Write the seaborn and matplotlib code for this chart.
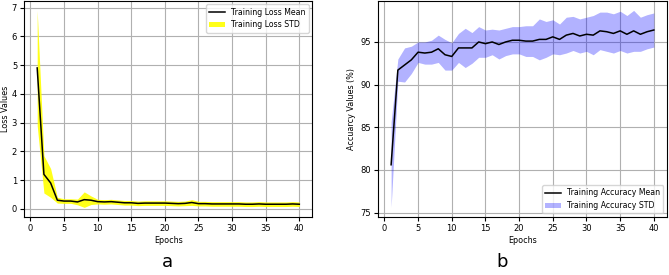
import numpy as np
import pandas as pd
import seaborn as sns
import matplotlib.pyplot as plt

epochs = list(range(1, 41))

loss_mean = [4.90, 1.20, 0.90, 0.30, 0.27, 0.27, 0.24, 0.32, 0.30, 0.25,
             0.24, 0.25, 0.23, 0.21, 0.21, 0.19, 0.20, 0.20, 0.20, 0.20,
             0.19, 0.18, 0.19, 0.22, 0.18, 0.18, 0.17, 0.17, 0.17, 0.17,
             0.17, 0.16, 0.16, 0.17, 0.16, 0.16, 0.16, 0.16, 0.17, 0.16]
loss_std = [2.00, 0.65, 0.50, 0.10, 0.08, 0.08, 0.10, 0.27, 0.15, 0.08,
            0.08, 0.08, 0.08, 0.08, 0.08, 0.08, 0.08, 0.08, 0.08, 0.08,
            0.08, 0.08, 0.08, 0.10, 0.08, 0.08, 0.08, 0.08, 0.08, 0.08,
            0.08, 0.08, 0.08, 0.08, 0.08, 0.08, 0.08, 0.08, 0.08, 0.08]

acc_mean = [80.6, 91.7, 92.3, 92.9, 93.8, 93.7, 93.8, 94.2, 93.5, 93.3,
            94.3, 94.3, 94.3, 95.0, 94.8, 95.0, 94.7, 95.0, 95.2, 95.2,
            95.1, 95.1, 95.3, 95.3, 95.6, 95.3, 95.8, 96.0, 95.7, 95.9,
            95.8, 96.3, 96.2, 96.0, 96.3, 95.9, 96.3, 95.9, 96.2, 96.4]
acc_std = [5.0, 1.3, 2.0, 1.6, 1.2, 1.3, 1.4, 1.6, 1.8, 1.6,
           1.7, 2.3, 1.8, 1.8, 1.6, 1.5, 1.7, 1.6, 1.6, 1.6,
           1.8, 1.8, 2.4, 2.1, 2.0, 1.8, 2.1, 2.0, 2.0, 2.0,
           2.3, 2.2, 2.3, 2.3, 2.3, 2.2, 2.4, 2.0, 2.0, 2.0]

df = pd.DataFrame({'Epochs': epochs, 'loss': loss_mean, 'loss_std': loss_std,
                   'acc': acc_mean, 'acc_std': acc_std})

plt.rcParams['font.size'] = 5.8
fig = plt.figure(figsize=(6.69, 2.75), dpi=100)
ax1 = fig.add_axes([0.036, 0.21, 0.431, 0.788])
ax2 = fig.add_axes([0.565, 0.21, 0.432, 0.788])

# loss panel
sns.lineplot(data=df, x='Epochs', y='loss', ax=ax1, color='black', lw=1.1,
             label='Training Loss Mean')
ax1.fill_between(df['Epochs'], df['loss'] - df['loss_std'], df['loss'] + df['loss_std'],
                 color='yellow', alpha=0.9, lw=0, label='Training Loss STD')
ax1.set_ylabel('Loss Values', labelpad=1)
ax1.set_xticks(range(0, 41, 5))
ax1.grid(True, color='#b0b0b0')
ax1.legend(loc='upper right', fontsize=5.6)

# accuracy panel
sns.lineplot(data=df, x='Epochs', y='acc', ax=ax2, color='black', lw=1.1,
             label='Training Accuracy Mean')
ax2.fill_between(df['Epochs'], df['acc'] - df['acc_std'], df['acc'] + df['acc_std'],
                 color='blue', alpha=0.3, lw=0, label='Training Accuracy STD')
ax2.set_ylabel('Accuarcy Values (%)', labelpad=3)
ax2.set_xticks(range(0, 41, 5))
ax2.grid(True, color='#b0b0b0')
ax2.legend(loc='lower right', fontsize=5.6)

for ax in (ax1, ax2):
    ax.tick_params(labelsize=6, length=3, pad=2)
    ax.xaxis.labelpad = 2
    ax.set_axisbelow(True)

fig.text(0.25, 0.03, 'a', fontsize=13, ha='center')
fig.text(0.75, 0.03, 'b', fontsize=13, ha='center')

fig.savefig('out.png', dpi=100)
